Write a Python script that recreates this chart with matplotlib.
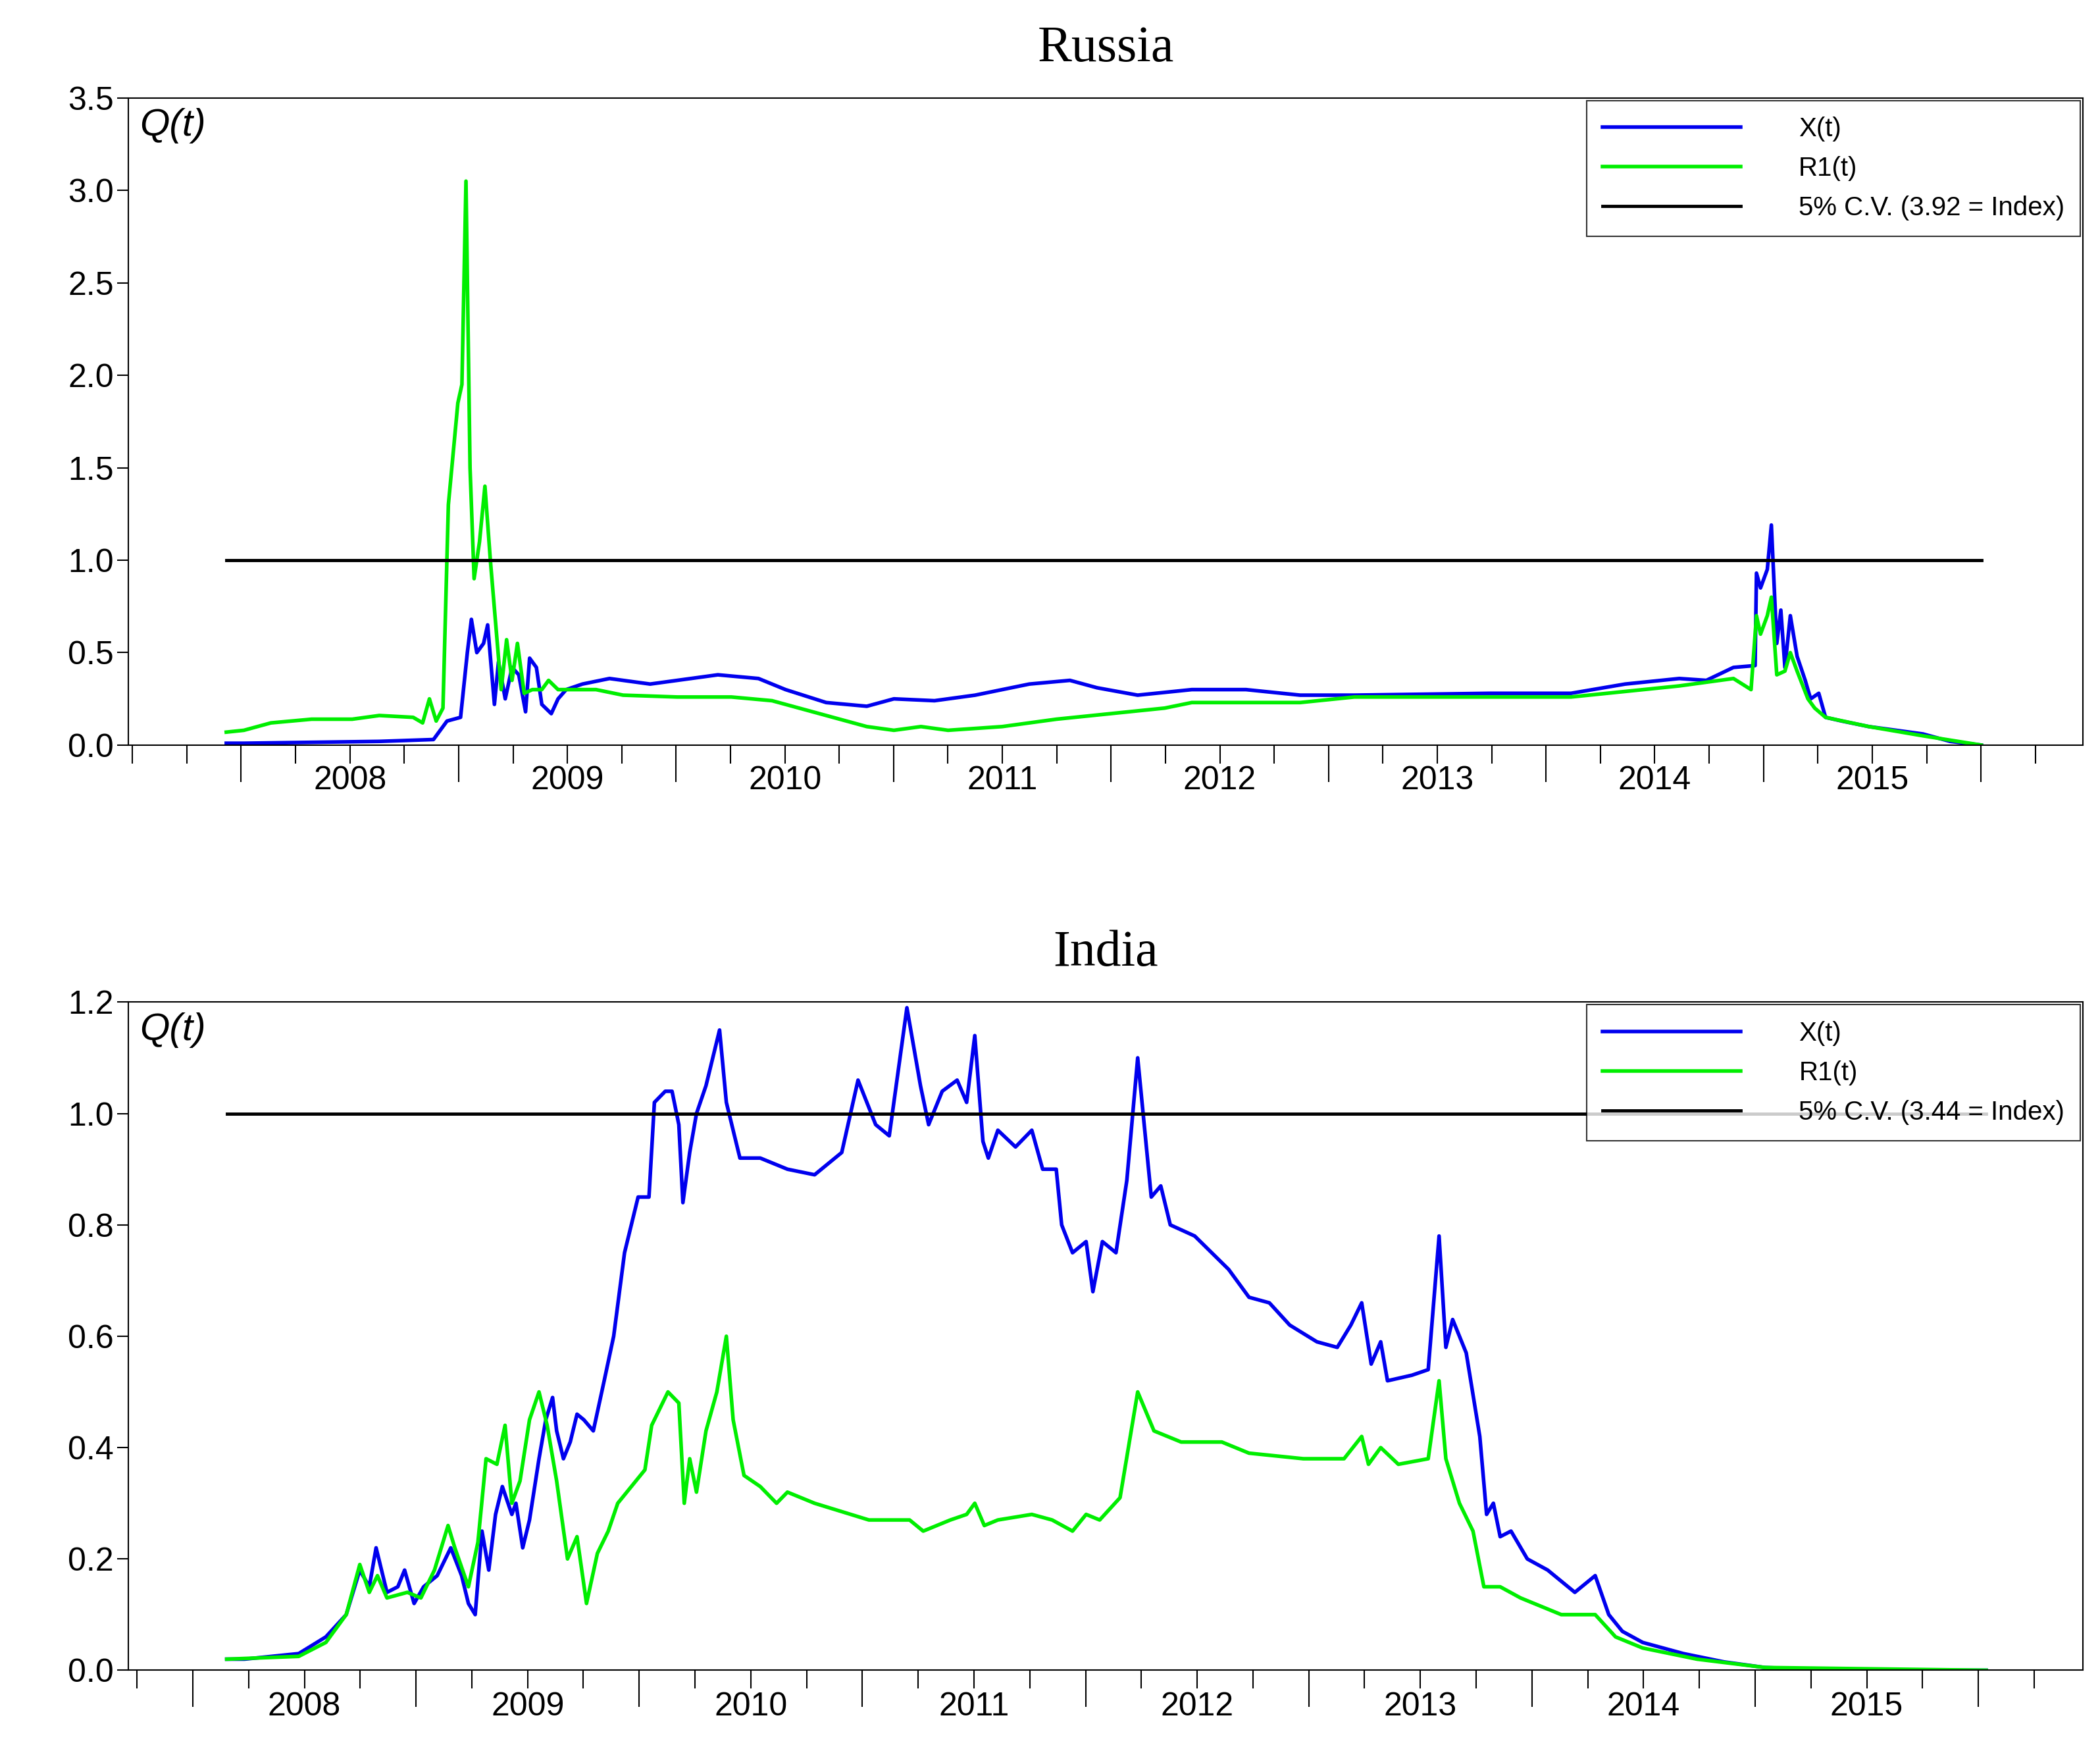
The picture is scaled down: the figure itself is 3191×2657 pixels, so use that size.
import matplotlib
matplotlib.use('Agg')
import matplotlib.pyplot as plt
from matplotlib.transforms import blended_transform_factory

# values, x in screen px converted to years below
ru_px = [167, 180, 230, 280, 320, 330, 340, 345, 348, 352, 357, 360, 365, 368, 373, 378, 383, 388, 391,
         396, 400, 407, 412, 418, 430, 450, 480, 510, 530, 560, 580, 610, 640, 660, 690, 720, 760, 790,
         810, 840, 880, 920, 960, 1000, 1100, 1160, 1200, 1240, 1260, 1280, 1296, 1297, 1300, 1305, 1308,
         1312, 1315, 1318, 1322, 1327, 1333, 1337, 1343, 1348, 1360, 1380, 1400, 1420, 1440, 1463]
ru_x = [0.01, 0.01, 0.015, 0.02, 0.03, 0.13, 0.15, 0.5, 0.68, 0.5, 0.55, 0.65, 0.22, 0.45, 0.25, 0.42,
        0.38, 0.18, 0.47, 0.42, 0.22, 0.17, 0.25, 0.3, 0.33, 0.36, 0.33, 0.36, 0.38, 0.36, 0.3, 0.23, 0.21,
        0.25, 0.24, 0.27, 0.33, 0.35, 0.31, 0.27, 0.3, 0.3, 0.27, 0.27, 0.28, 0.28, 0.33, 0.36, 0.35, 0.42,
        0.43, 0.93, 0.85, 0.95, 1.19, 0.55, 0.73, 0.42, 0.7, 0.48, 0.35, 0.25, 0.28, 0.15, 0.13, 0.1, 0.08,
        0.06, 0.02, 0.0]
ru_r1_px = [167, 180, 200, 230, 260, 280, 305, 312, 317, 322, 327, 331, 338, 341, 344, 347, 350, 354, 358,
            362, 366, 370, 374, 378, 382, 387, 393, 400, 405, 412, 420, 440, 460, 500, 540, 570, 600, 640,
            660, 680, 700, 740, 780, 820, 860, 880, 960, 1000, 1100, 1160, 1240, 1280, 1293, 1297, 1300,
            1305, 1308, 1312, 1318, 1322, 1327, 1335, 1340, 1348, 1380, 1420, 1463]
ru_r1 = [0.07, 0.08, 0.12, 0.14, 0.14, 0.16, 0.15, 0.12, 0.25, 0.13, 0.2, 1.3, 1.85, 1.95, 3.05, 1.5, 0.9,
         1.1, 1.4, 1.0, 0.65, 0.3, 0.57, 0.35, 0.55, 0.28, 0.3, 0.3, 0.35, 0.3, 0.3, 0.3, 0.27, 0.26, 0.26,
         0.24, 0.18, 0.1, 0.08, 0.1, 0.08, 0.1, 0.14, 0.17, 0.2, 0.23, 0.23, 0.26, 0.26, 0.26, 0.32, 0.36,
         0.3, 0.7, 0.6, 0.7, 0.8, 0.38, 0.4, 0.5, 0.4, 0.25, 0.2, 0.15, 0.1, 0.05, 0.0]

in_px = [167, 180, 220, 240, 255, 265, 272, 277, 285, 293, 298, 305, 312, 322, 332, 340, 345, 350, 355,
         360, 365, 370, 377, 380, 385, 390, 397, 402, 407, 410, 415, 420, 425, 430, 437, 445, 452, 460,
         470, 478, 482, 490, 495, 500, 503, 508, 513, 520, 530, 535, 545, 560, 580, 600, 620, 632, 645,
         655, 668, 678, 684, 694, 705, 712, 718, 724, 728, 735, 748, 760, 768, 778, 782, 790, 800, 805,
         812, 822, 830, 838, 848, 855, 862, 880, 905, 920, 935, 950, 970, 985, 995, 1003, 1010, 1017,
         1022, 1040, 1052, 1060, 1065, 1070, 1080, 1090, 1095, 1100, 1105, 1113, 1125, 1140, 1150, 1160,
         1175, 1185, 1195, 1210, 1240, 1270, 1300, 1350, 1463]
in_x = [0.02, 0.02, 0.03, 0.06, 0.1, 0.18, 0.15, 0.22, 0.14, 0.15, 0.18, 0.12, 0.15, 0.17, 0.22, 0.17,
        0.12, 0.1, 0.25, 0.18, 0.28, 0.33, 0.28, 0.3, 0.22, 0.27, 0.38, 0.45, 0.49, 0.43, 0.38, 0.41, 0.46,
        0.45, 0.43, 0.52, 0.6, 0.75, 0.85, 0.85, 1.02, 1.04, 1.04, 0.98, 0.84, 0.93, 1.0, 1.05, 1.15, 1.02,
        0.92, 0.92, 0.9, 0.89, 0.93, 1.06, 0.98, 0.96, 1.19, 1.05, 0.98, 1.04, 1.06, 1.02, 1.14, 0.95, 0.92,
        0.97, 0.94, 0.97, 0.9, 0.9, 0.8, 0.75, 0.77, 0.68, 0.77, 0.75, 0.88, 1.1, 0.85, 0.87, 0.8, 0.78,
        0.72, 0.67, 0.66, 0.62, 0.59, 0.58, 0.62, 0.66, 0.55, 0.59, 0.52, 0.53, 0.54, 0.78, 0.58, 0.63,
        0.57, 0.42, 0.28, 0.3, 0.24, 0.25, 0.2, 0.18, 0.16, 0.14, 0.17, 0.1, 0.07, 0.05, 0.03, 0.015,
        0.005, 0.0, 0.0]
in_r1_px = [167, 220, 240, 255, 265, 272, 278, 285, 300, 310, 320, 330, 335, 345, 352, 358, 366, 372, 377,
            383, 390, 397, 403, 410, 418, 425, 432, 440, 448, 455, 465, 475, 480, 488, 492, 500, 504, 508,
            513, 520, 528, 535, 540, 548, 560, 572, 580, 600, 620, 640, 670, 680, 700, 712, 718, 725, 735,
            760, 775, 790, 800, 810, 825, 838, 850, 870, 900, 920, 960, 990, 1003, 1008, 1017, 1030, 1052,
            1060, 1065, 1075, 1085, 1093, 1105, 1120, 1150, 1175, 1190, 1210, 1250, 1300, 1463]
in_r1 = [0.02, 0.025, 0.05, 0.1, 0.19, 0.14, 0.17, 0.13, 0.14, 0.13, 0.18, 0.26, 0.22, 0.15, 0.23, 0.38,
         0.37, 0.44, 0.3, 0.34, 0.45, 0.5, 0.44, 0.34, 0.2, 0.24, 0.12, 0.21, 0.25, 0.3, 0.33, 0.36, 0.44,
         0.48, 0.5, 0.48, 0.3, 0.38, 0.32, 0.43, 0.5, 0.6, 0.45, 0.35, 0.33, 0.3, 0.32, 0.3, 0.285, 0.27,
         0.27, 0.25, 0.27, 0.28, 0.3, 0.26, 0.27, 0.28, 0.27, 0.25, 0.28, 0.27, 0.31, 0.5, 0.43, 0.41, 0.41,
         0.39, 0.38, 0.38, 0.42, 0.37, 0.4, 0.37, 0.38, 0.52, 0.38, 0.3, 0.25, 0.15, 0.15, 0.13, 0.1, 0.1,
         0.06, 0.04, 0.02, 0.005, 0.0]

years = list(range(2008, 2016))
cv_labels = ['5% C.V. (3.92 = Index)', '5% C.V. (3.44 = Index)']


def to_year(px, start_px, year_px):
    return [2008 + (p - start_px) / year_px for p in px]


plt.rcParams['font.family'] = ['Liberation Sans', 'DejaVu Sans']
fig = plt.figure(figsize=(31.91, 26.57), dpi=100)
ax1 = fig.add_axes([0.061, 0.574, 0.931, 0.370])
ax2 = fig.add_axes([0.061, 0.045, 0.931, 0.382])

panels = [
    (ax1, 'Russia', to_year(ru_px, 178, 160.6), ru_x, to_year(ru_r1_px, 178, 160.6), ru_r1,
     (2007.48, 2016.47), (0, 3.5), [i * 0.5 for i in range(8)], cv_labels[0]),
    (ax2, 'India', to_year(in_px, 142, 164.4), in_x, to_year(in_r1_px, 142, 164.4), in_r1,
     (2007.71, 2016.47), (0, 1.2), [i * 0.2 for i in range(7)], cv_labels[1]),
]

for ax, title, tx, x, tr, r1, xlim, ylim, yt, cv in panels:
    ax.plot(tx, x, color='#0000ee', lw=4, label='X(t)')
    ax.plot(tr, r1, color='#00ee00', lw=4, label='R1(t)')
    ax.plot([min(tx[0], tr[0]), max(tx[-1], tr[-1])], [1, 1], color='black', lw=3.5, label=cv)
    ax.set_xlim(*xlim)
    ax.set_ylim(*ylim)
    ax.set_yticks(yt)
    ax.set_yticklabels(['%.1f' % v for v in yt], fontsize=36)
    ax.tick_params(axis='y', direction='out', length=12, width=1.5)
    ax.set_xticks(years + [2016])
    ax.set_xticklabels([])
    ax.tick_params(axis='x', which='major', direction='out', length=40, width=1.5)
    quarters = [y + q / 4 for y in [2007] + years + [2016] for q in range(1, 4)]
    ax.set_xticks([q for q in quarters if xlim[0] < q < xlim[1]], minor=True)
    ax.tick_params(axis='x', which='minor', direction='out', length=20, width=1.5)
    trans = blended_transform_factory(ax.transData, ax.transAxes)
    for y in years:
        ax.text(y + 0.5, -0.032, str(y), transform=trans, ha='center', va='top', fontsize=36)
    for s in ax.spines.values():
        s.set_linewidth(1.5)
    ax.text(0.006, 0.985, 'Q(t)', transform=ax.transAxes, ha='left', va='top',
            fontsize=42, style='italic')
    ax.set_title(title, fontsize=56, family='Liberation Serif', pad=40)
    leg = ax.legend(loc='upper right', fontsize=29, frameon=True, fancybox=False,
                    borderaxespad=0.1, handlelength=5.2, handletextpad=2.2,
                    borderpad=0.6, labelspacing=0.55)
    leg.get_frame().set_edgecolor('black')
    leg.get_frame().set_linewidth(1.5)

fig.savefig('out.png', dpi=100)
